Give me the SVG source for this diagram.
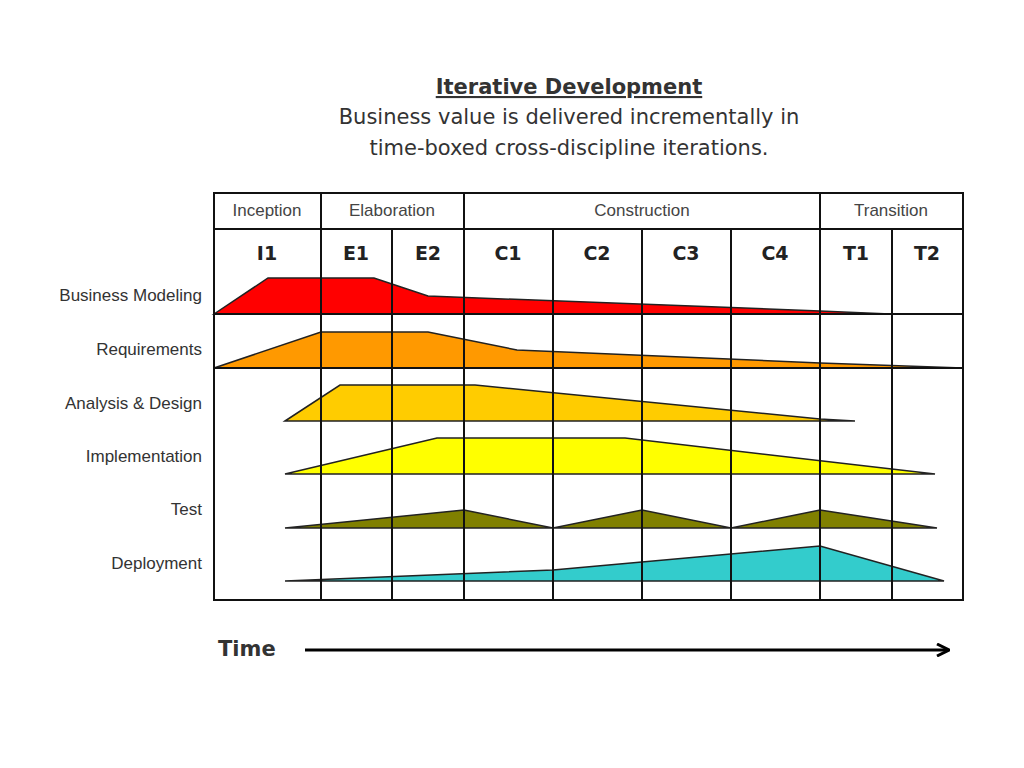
<svg xmlns="http://www.w3.org/2000/svg" width="1024" height="768" viewBox="0 0 1024 768">
<style>
.t{font-family:"DejaVu Sans",Verdana,sans-serif;fill:#333}
.h{font-family:"Liberation Sans",Arial,sans-serif;font-size:17px;fill:#444;text-anchor:middle}
.it{font-family:"DejaVu Sans",Verdana,sans-serif;font-size:19px;font-weight:bold;fill:#222;text-anchor:middle}
.l{font-family:"Liberation Sans",Arial,sans-serif;font-size:17px;fill:#333;text-anchor:end}
.g{stroke:#111;stroke-width:2;fill:none}
.s{stroke:#222;stroke-width:1.5}
</style>
<defs><marker id="a" markerWidth="14" markerHeight="14" refX="12" refY="7" orient="auto" markerUnits="userSpaceOnUse"><path d="M1,1 L13,7 L1,13" fill="none" stroke="#000" stroke-width="3"/></marker></defs>
<rect width="1024" height="768" fill="#fff"/>
<g id="title">
<text x="569" y="94" class="t" font-size="21" font-weight="bold" text-anchor="middle" text-decoration="underline">Iterative Development</text>
<text x="569" y="124" class="t" font-size="21" text-anchor="middle">Business value is delivered incrementally in</text>
<text x="569" y="155" class="t" font-size="21" text-anchor="middle">time-boxed cross-discipline iterations.</text>
</g>
<g id="shapes" class="s">
<polygon points="214,314 268,278 374,278 428,296 820,311 890,314" fill="#ff0000"/>
<polygon points="214,368 321,332 428,332 517,350 820,363 963,368" fill="#ff9900"/>
<polygon points="285,421 340,385 475,385 820,419 855,421" fill="#ffcc00"/>
<polygon points="285,474 437,438 625,438 935,474" fill="#ffff00"/>
<polygon points="285,528 464,510 553,528 642,510 731,528 820,510 937,528" fill="#808000"/>
<polygon points="285,581 553,570 820,546 944,581" fill="#33cccc"/>
</g>
<g id="grid" class="g">
<rect x="214" y="193" width="749" height="407"/>
<line x1="214" y1="229" x2="963" y2="229"/>
<line x1="214" y1="314" x2="963" y2="314"/>
<line x1="214" y1="368" x2="963" y2="368"/>
<line x1="321" y1="193" x2="321" y2="600"/>
<line x1="464" y1="193" x2="464" y2="600"/>
<line x1="820" y1="193" x2="820" y2="600"/>
<line x1="392" y1="229" x2="392" y2="600"/>
<line x1="553" y1="229" x2="553" y2="600"/>
<line x1="642" y1="229" x2="642" y2="600"/>
<line x1="731" y1="229" x2="731" y2="600"/>
<line x1="892" y1="229" x2="892" y2="600"/>
</g>
<g id="phases">
<text x="267" y="216" class="h">Inception</text>
<text x="392" y="216" class="h">Elaboration</text>
<text x="642" y="216" class="h">Construction</text>
<text x="891" y="216" class="h">Transition</text>
</g>
<g id="iterations">
<text x="267" y="260" class="it">I1</text>
<text x="356" y="260" class="it">E1</text>
<text x="428" y="260" class="it">E2</text>
<text x="508" y="260" class="it">C1</text>
<text x="597" y="260" class="it">C2</text>
<text x="686" y="260" class="it">C3</text>
<text x="775" y="260" class="it">C4</text>
<text x="856" y="260" class="it">T1</text>
<text x="927" y="260" class="it">T2</text>
</g>
<g id="labels">
<text x="202" y="301" class="l">Business Modeling</text>
<text x="202" y="355" class="l">Requirements</text>
<text x="202" y="409" class="l">Analysis &amp; Design</text>
<text x="202" y="462" class="l">Implementation</text>
<text x="202" y="515" class="l">Test</text>
<text x="202" y="569" class="l">Deployment</text>
</g>
<g id="connectors">
<text x="218" y="656" class="t" font-size="21" font-weight="bold" fill="#111">Time</text>
<line x1="305" y1="650" x2="948" y2="650" stroke="#000" stroke-width="3" marker-end="url(#a)"/>
</g>
</svg>
